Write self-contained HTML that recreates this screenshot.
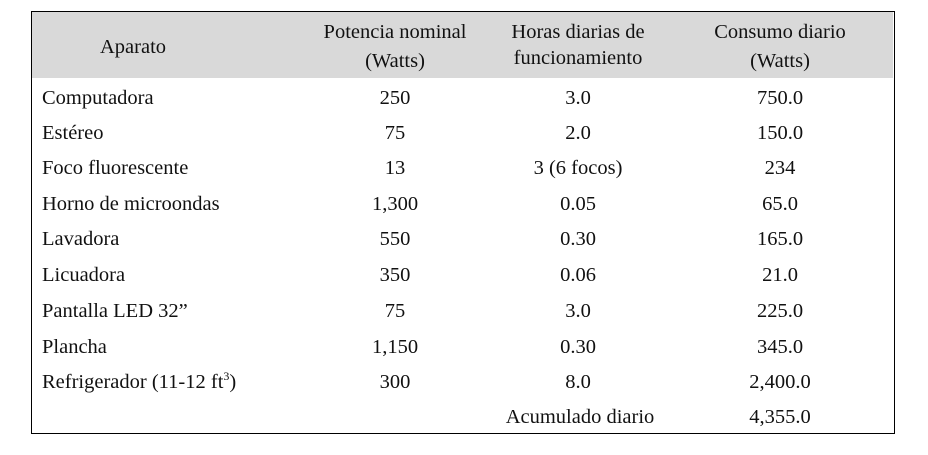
<!DOCTYPE html>
<html><head><meta charset="utf-8"><style>
body{margin:0;width:928px;height:455px;background:#fff;position:relative;overflow:hidden;font-family:"Liberation Serif",serif;font-size:20.5px;color:#111}
#t{position:absolute;left:31px;top:11px;width:862px;height:421px;border:1.5px solid #000;}
#h{position:absolute;left:32px;top:12px;width:861px;height:66px;background:#d9d9d9}
.c{position:absolute;transform:translateX(-50%);white-space:nowrap;line-height:22px}
.l{position:absolute;left:42px;white-space:nowrap;line-height:22px}
sup{font-size:12px;vertical-align:top;line-height:10px}
</style></head><body>
<div id="h"></div><div id="t"></div>
<div class="c" style="left:133px;top:36px">Aparato</div>
<div class="c" style="left:395px;top:21px">Potencia nominal</div>
<div class="c" style="left:395px;top:50px">(Watts)</div>
<div class="c" style="left:578px;top:21px">Horas diarias de</div>
<div class="c" style="left:578px;top:47px">funcionamiento</div>
<div class="c" style="left:780px;top:21px">Consumo diario</div>
<div class="c" style="left:780px;top:50px">(Watts)</div>

<div class="l" style="top:87px">Computadora</div>
<div class="c" style="left:395px;top:87px">250</div><div class="c" style="left:578px;top:87px">3.0</div><div class="c" style="left:780px;top:87px">750.0</div>
<div class="l" style="top:122px">Estéreo</div>
<div class="c" style="left:395px;top:122px">75</div><div class="c" style="left:578px;top:122px">2.0</div><div class="c" style="left:780px;top:122px">150.0</div>
<div class="l" style="top:157px">Foco fluorescente</div>
<div class="c" style="left:395px;top:157px">13</div><div class="c" style="left:578px;top:157px">3 (6 focos)</div><div class="c" style="left:780px;top:157px">234</div>
<div class="l" style="top:193px">Horno de microondas</div>
<div class="c" style="left:395px;top:193px">1,300</div><div class="c" style="left:578px;top:193px">0.05</div><div class="c" style="left:780px;top:193px">65.0</div>
<div class="l" style="top:228px">Lavadora</div>
<div class="c" style="left:395px;top:228px">550</div><div class="c" style="left:578px;top:228px">0.30</div><div class="c" style="left:780px;top:228px">165.0</div>
<div class="l" style="top:264px">Licuadora</div>
<div class="c" style="left:395px;top:264px">350</div><div class="c" style="left:578px;top:264px">0.06</div><div class="c" style="left:780px;top:264px">21.0</div>
<div class="l" style="top:300px">Pantalla LED 32”</div>
<div class="c" style="left:395px;top:300px">75</div><div class="c" style="left:578px;top:300px">3.0</div><div class="c" style="left:780px;top:300px">225.0</div>
<div class="l" style="top:336px">Plancha</div>
<div class="c" style="left:395px;top:336px">1,150</div><div class="c" style="left:578px;top:336px">0.30</div><div class="c" style="left:780px;top:336px">345.0</div>
<div class="l" style="top:371px">Refrigerador (11-12 ft<sup>3</sup>)</div>
<div class="c" style="left:395px;top:371px">300</div><div class="c" style="left:578px;top:371px">8.0</div><div class="c" style="left:780px;top:371px">2,400.0</div>
<div class="c" style="left:580px;top:406px">Acumulado diario</div>
<div class="c" style="left:780px;top:406px">4,355.0</div>
</body></html>
